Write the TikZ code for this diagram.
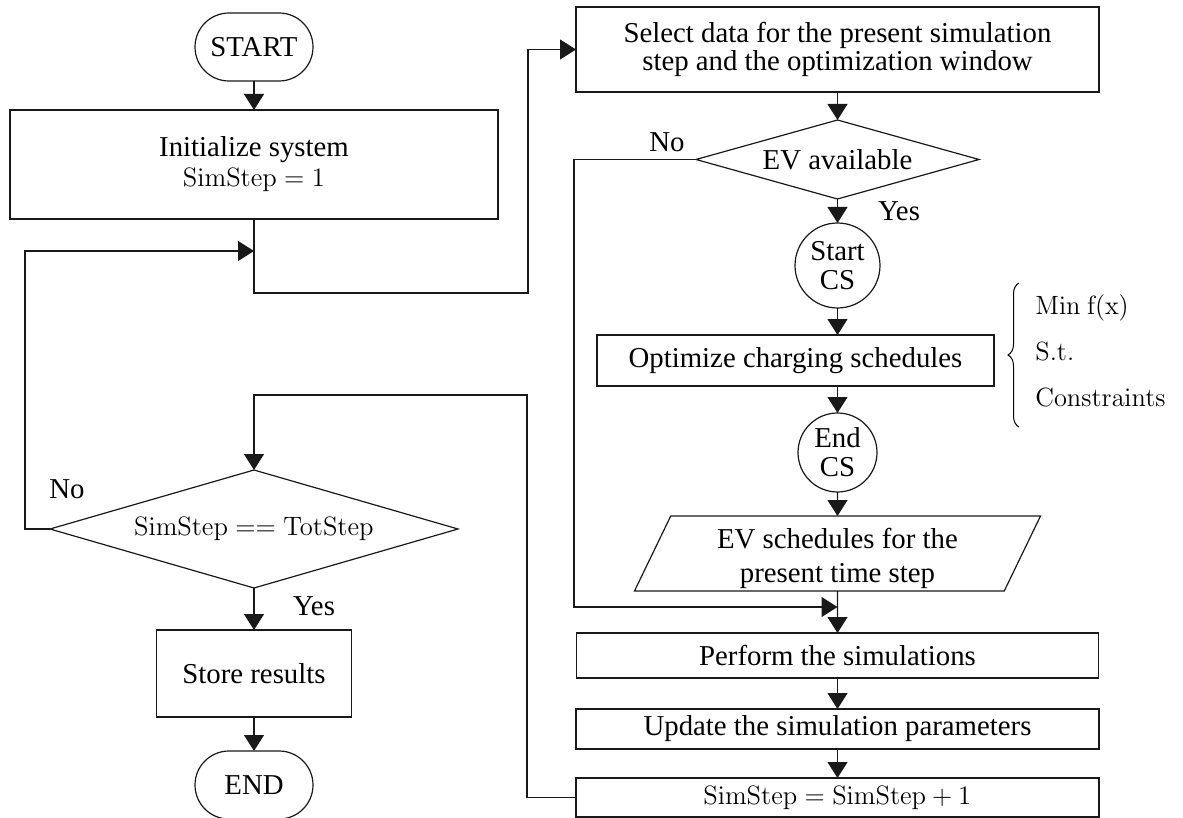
\RequirePackage{fix-cm}
\documentclass[tikz,border=0pt]{standalone}
\usepackage[no-math]{fontspec}
\setmainfont{Liberation Serif}
\usetikzlibrary{positioning,shapes.geometric,arrows.meta,decorations.pathreplacing}

\newcommand{\flowtext}{\fontsize{14.4}{15}\selectfont}
\newcommand{\flowmath}{\fontsize{13.3}{15}\selectfont}

\tikzset{
  base/.style={draw=black!90, line width=0.6pt, inner sep=2pt, outer sep=0pt, align=center, font=\flowtext},
  procbox/.style={base, rectangle},
  terminal/.style={base, rectangle, rounded corners=17pt, minimum width=59pt, minimum height=34pt},
  decision/.style={base, diamond, shape aspect=3.5, inner sep=0pt},
  connector/.style={base, circle, inner sep=0pt, font=\fontsize{14.4}{14.5}\selectfont},
  iobox/.style={base, trapezium, trapezium left angle=63, trapezium right angle=117,
    trapezium stretches body, minimum width=203pt, minimum height=37.5pt, inner sep=0pt,
    font=\fontsize{14.4}{17}\selectfont},
  lbl/.style={inner sep=0pt, font=\flowtext},
  flow/.style={->, draw=black!90, line width=0.6pt},
}

\begin{document}
\begin{tikzpicture}[x=0.5pt, y=-0.5pt, >={Triangle[length=8pt,width=10pt]}]
\useasboundingbox (0,0) rectangle (1183,818);

% left column
\node[terminal] (start) at (254,47) {START};
\node[procbox, minimum width=244pt, minimum height=54.5pt, below=14.5pt of start] (init)
  {Initialize system\\{\flowmath $\mathrm{SimStep} = 1$}};
\node[decision, minimum width=204pt, minimum height=59pt, font=\flowmath] (check) at (254,529)
  {$\mathrm{SimStep} == \mathrm{TotStep}$};
\node[procbox, minimum width=97.5pt, minimum height=43.5pt, below=21pt of check] (store) {Store results};
\node[terminal, below=17pt of store] (end) {END};

% right column
\node[procbox, minimum width=261.5pt, minimum height=42.5pt, font=\fontsize{14.4}{12.8}\selectfont] (sel) at (837.5,49.5)
  {Select data for the present simulation\\step and the optimization window};
\node[decision, minimum width=141.5pt, minimum height=39.5pt, below=14pt of sel] (ev) {EV available};
\node[connector, minimum size=42.5pt, below=12pt of ev] (startcs) {Start\\CS};
\node[procbox, minimum width=198.5pt, minimum height=25.5pt, below=13.5pt of startcs, xshift=-21pt] (opt)
  {Optimize charging schedules};
\node[connector, minimum size=39.5pt, below=13.5pt of opt, xshift=21pt] (endcs) {End\\CS};
\node[iobox, below=12pt of endcs] (sched) {\rule{0pt}{15.5pt}EV schedules for the\\present time step};
\node[procbox, minimum width=261pt, minimum height=22.5pt, below=21pt of sched] (perf) {Perform the simulations};
\node[procbox, minimum width=261.5pt, minimum height=20pt, below=15.5pt of perf] (upd) {Update the simulation parameters};
\node[procbox, minimum width=261.5pt, minimum height=19.5pt, below=14.5pt of upd, font=\flowmath] (inc)
  {$\mathrm{SimStep} = \mathrm{SimStep} + 1$};

% optimization problem
\node[anchor=west, align=left, inner sep=0pt, font=\fontsize{13.2}{23}\selectfont] (cons) at (1035,351)
  {$\mathrm{Min\ f(x)}$\\$\mathrm{S.t.}$\\$\mathrm{Constraints}$};
\draw[decorate, decoration={brace, amplitude=5.5pt}, line width=0.5pt] (1019,427) -- (1019,283);

% branch labels
\node[lbl] (noev) at (667,142) {No};
\node[lbl] (yesev) at (899,211) {Yes};
\node[lbl] (nochk) at (67,489) {No};
\node[lbl] (yeschk) at (314,606) {Yes};

% bend points
\coordinate (up) at (528,293);
\coordinate (loopl) at (25,251);
\coordinate (loopr) at (254,251);
\coordinate (skip) at (574,607);
\coordinate (back) at (527,395);

% connectors
\draw[flow] (start) -- (init);
\draw[flow] (init) -- (init |- up) -- (up) |- (sel);
\draw[flow] (check.west) -| (loopl) -- (loopr);
\draw[flow] (check) -- (store);
\draw[flow] (store) -- (end);
\draw[flow] (sel) -- (ev);
\draw[flow] (ev) -- (startcs);
\draw[flow] (ev.west) -| (skip) -- (skip -| perf.north);
\draw[flow] (startcs) -- (startcs |- opt.north);
\draw[flow] (endcs |- opt.south) -- (endcs);
\draw[flow] (endcs) -- (sched);
\draw[flow] (sched) -- (perf);
\draw[flow] (perf) -- (upd);
\draw[flow] (upd) -- (inc);
\draw[flow] (inc.west) -| (back) -| (check.north);
\end{tikzpicture}
\end{document}
